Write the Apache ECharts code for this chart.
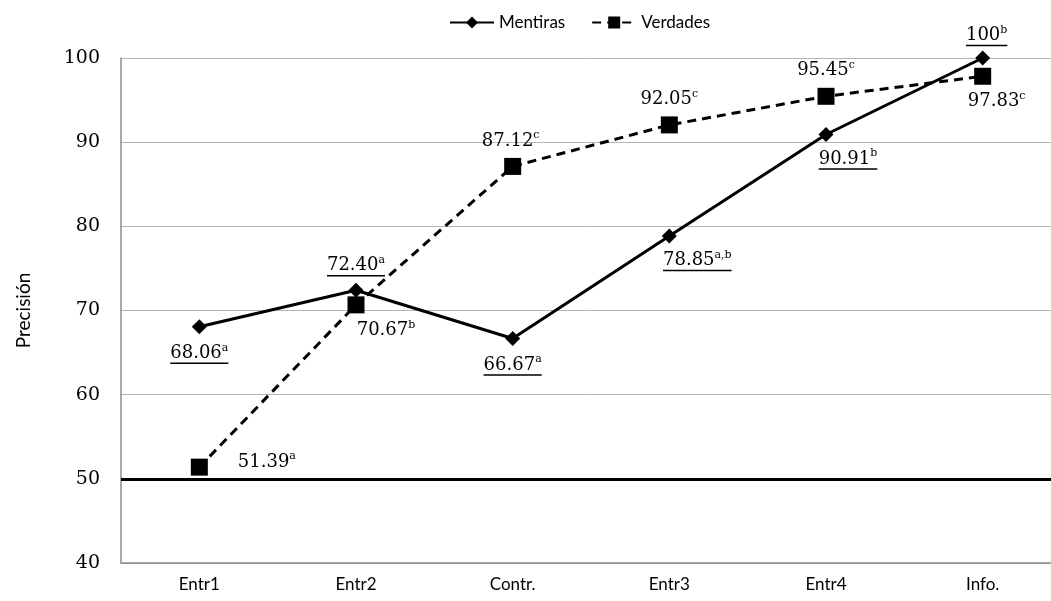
<!DOCTYPE html>
<html>
<head>
<meta charset="utf-8">
<script src="https://cdn.jsdelivr.net/npm/echarts@6/dist/echarts.min.js"></script>
<style>
  html, body { margin: 0; padding: 0; background: #fff; }
  #chart { width: 1051px; height: 601px; }
</style>
</head>
<body>
<div id="chart"></div>
<script>
var categories = ["Entr1", "Entr2", "Contr.", "Entr3", "Entr4", "Info."];
var mentiras = [68.06, 72.40, 66.67, 78.85, 90.91, 100];
var mentirasSup = ["a", "a", "a", "a,b", "b", "b"];
var verdades = [51.39, 70.67, 87.12, 92.05, 95.45, 97.83];
var verdadesSup = ["a", "b", "c", "c", "c", "c"];
var yTicks = [40, 50, 60, 70, 80, 90, 100];

var serifFont = "DejaVu Serif";
var sansFont = "Lato";

// label placement, one per point
var mentirasPos = [
  { position: "bottom", distance: 8, offset: [0, 0] },
  { position: "top", distance: 6, offset: [0, 0] },
  { position: "bottom", distance: 8, offset: [0, 0] },
  { position: "bottom", distance: 6, offset: [28, 0] },
  { position: "bottom", distance: 6, offset: [22, 0] },
  { position: "top", distance: 4, offset: [4, 0] }
];
var verdadesPos = [
  { position: "right", distance: 30, offset: [0, -6] },
  { position: "bottom", distance: 6, offset: [30, 0] },
  { position: "top", distance: 8, offset: [-2, 0] },
  { position: "top", distance: 8, offset: [0, 0] },
  { position: "top", distance: 8, offset: [0, 0] },
  { position: "bottom", distance: 6, offset: [14, 0] }
];

var ctx = document.createElement("canvas").getContext("2d");
function textW(str, size) {
  ctx.font = size + "px '" + serifFont + "'";
  return ctx.measureText(str).width;
}

function richBase() {
  return {
    n: { fontFamily: serifFont, fontSize: 18, color: "#000", lineHeight: 20, verticalAlign: "bottom" },
    s: { fontFamily: serifFont, fontSize: 11, color: "#000", lineHeight: 12, verticalAlign: "top" }
  };
}

function buildData(values, sups, pos, underline) {
  return values.map(function (v, i) {
    var txt = v.toFixed(2).replace(/\.00$/, "");
    var rich = richBase();
    var fmt = "{n|" + txt + "}{s|" + sups[i] + "}";
    if (underline) {
      var w = textW(txt, 18) + textW(sups[i], 11);
      rich.u = { width: w, height: 1.5, lineHeight: 2, backgroundColor: "#000" };
      fmt += "\n{u| }";
    }
    return {
      value: v,
      label: {
        show: true,
        position: pos[i].position,
        distance: pos[i].distance,
        offset: pos[i].offset,
        formatter: fmt,
        rich: rich
      }
    };
  });
}

var chart = echarts.init(document.getElementById("chart"));
chart.setOption({
  backgroundColor: "#fff",
  animation: false,
  legend: {
    top: 9,
    left: 444,
    itemWidth: 44,
    itemHeight: 15,
    itemGap: 26,
    textStyle: { fontFamily: sansFont, fontSize: 17, color: "#000" },
    data: ["Mentiras", "Verdades"]
  },
  grid: { left: 121, width: 940, top: 58, bottom: 38, outerBoundsMode: "none" },
  xAxis: {
    type: "category",
    data: categories,
    boundaryGap: true,
    axisLine: { lineStyle: { color: "#8c8c8c", width: 1.5 } },
    axisTick: { show: false },
    axisLabel: { fontFamily: sansFont, fontSize: 17, color: "#000", margin: 13 }
  },
  yAxis: {
    type: "value",
    min: yTicks[0],
    max: yTicks[yTicks.length - 1],
    interval: 10,
    name: "Precisión",
    nameLocation: "middle",
    nameGap: 88,
    nameTextStyle: { fontFamily: sansFont, fontSize: 19, color: "#000" },
    axisLine: { show: true, lineStyle: { color: "#8c8c8c", width: 1.5 } },
    axisTick: { show: false },
    axisLabel: { fontFamily: serifFont, fontSize: 19, color: "#000", margin: 21 },
    splitLine: { lineStyle: { color: "#b4b4b4", width: 1 } }
  },
  series: [
    {
      name: "Mentiras",
      type: "line",
      data: buildData(mentiras, mentirasSup, mentirasPos, true),
      symbol: "diamond",
      symbolSize: 15,
      itemStyle: { color: "#000" },
      lineStyle: { color: "#000", width: 3, type: "solid" },
      z: 3,
      markLine: {
        silent: true,
        symbol: "none",
        label: { show: false },
        lineStyle: { color: "#000", width: 3, type: "solid" },
        data: [{ yAxis: 50 }]
      }
    },
    {
      name: "Verdades",
      type: "line",
      data: buildData(verdades, verdadesSup, verdadesPos, false),
      symbol: "rect",
      symbolSize: 17,
      itemStyle: { color: "#000" },
      lineStyle: { color: "#000", width: 3, type: [9, 6] },
      z: 2
    }
  ]
});
</script>
</body>
</html>
